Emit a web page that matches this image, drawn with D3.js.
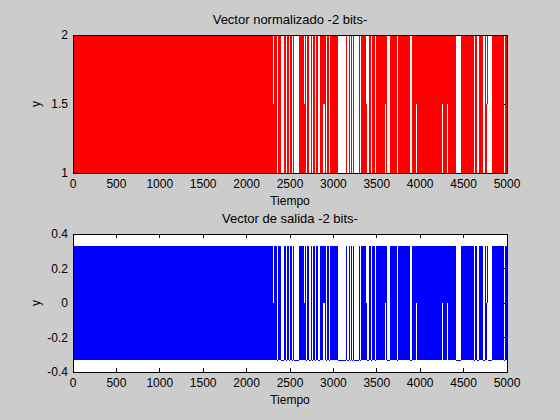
<!DOCTYPE html>
<html>
<head>
<meta charset="utf-8">
<script src="https://cdn.jsdelivr.net/npm/d3@7"></script>
<style>
  body { margin: 0; background: #cccccc; }
  svg { display: block; }
  text { font-family: "Liberation Sans", Arial, Helvetica, sans-serif; font-size: 12px; fill: #000; }
</style>
</head>
<body>
<svg id="fig" width="560" height="420"></svg>
<script>
// Tiempo axis
const tMax = 5000;
const xTicks = [0, 500, 1000, 1500, 2000, 2500, 3000, 3500, 4000, 4500, 5000];

// stretches where the trace sits on its low level (blank columns)
const lowRuns = [
  [2350, 2362], [2396, 2431], [2454, 2465], [2488, 2500], [2523, 2535],
  [2546, 2604], [2684, 2696], [2719, 2742], [2753, 2765], [2788, 2800],
  [2823, 2846], [2915, 2926], [2949, 2961], [3053, 3145], [3157, 3180],
  [3191, 3203], [3214, 3226], [3237, 3295], [3306, 3318], [3387, 3410],
  [3433, 3445], [3479, 3491], [3618, 3652], [3733, 3744], [3882, 3906],
  [4412, 4470], [4620, 4631], [4654, 4677], [4724, 4747], [4781, 4827],
  [4965, 4977]
];
// stretches where only the lower half of the band is covered
const lowerRuns = [[2304, 2316], [2661, 2673], [3376, 3387], [4758, 4770]];
// stretches where only the upper half of the band is covered
const upperRuns = [[2880, 2903], [3594, 3606], [3952, 3963], [4251, 4263], [4309, 4320], [4770, 4781]];

// top panel: normalised vector
const normLevels = { lo: 1, mid: 1.5, hi: 2 };
const normTicks = [1, 1.5, 2];
const normTickLabels = ['1', '1.5', '2'];

// bottom panel: output vector
const outLevels = { lo: -0.333, mid: 0, hi: 0.333 };
const outTicks = [-0.4, -0.2, 0, 0.2, 0.4];
const outTickLabels = ['-0.4', '-0.2', '0', '0.2', '0.4'];

const svg = d3.select('#fig');
const left = 73, right = 507;

// everything not listed above is the densely switching part
const special = lowRuns.concat(lowerRuns, upperRuns).sort((a, b) => a[0] - b[0]);
const fullRuns = [];
let cur = 0;
special.forEach(r => {
  if (r[0] > cur) fullRuns.push([cur, r[0]]);
  cur = Math.max(cur, r[1]);
});
if (cur < tMax) fullRuns.push([cur, tMax]);

function panel(opts) {
  const x = d3.scaleLinear().domain([0, tMax]).range([left, right]);
  const y = d3.scaleLinear().domain(opts.domain).range([opts.bottom, opts.top]);
  const g = svg.append('g').attr('shape-rendering', 'crispEdges');

  g.append('rect')
    .attr('x', left).attr('y', opts.top)
    .attr('width', right - left).attr('height', opts.bottom - opts.top)
    .attr('fill', '#fff');

  // inward ticks on all four sides (under the data)
  const tl = 4;
  g.selectAll('.xt-b').data(xTicks).join('line')
    .attr('x1', d => x(d)).attr('x2', d => x(d))
    .attr('y1', opts.bottom).attr('y2', opts.bottom - tl)
    .attr('stroke', '#000');
  g.selectAll('.xt-t').data(xTicks).join('line')
    .attr('x1', d => x(d)).attr('x2', d => x(d))
    .attr('y1', opts.top).attr('y2', opts.top + tl)
    .attr('stroke', '#000');
  g.selectAll('.yt-l').data(opts.ticks).join('line')
    .attr('x1', left).attr('x2', left + tl)
    .attr('y1', d => y(d)).attr('y2', d => y(d))
    .attr('stroke', '#000');
  g.selectAll('.yt-r').data(opts.ticks).join('line')
    .attr('x1', right).attr('x2', right - tl)
    .attr('y1', d => y(d)).attr('y2', d => y(d))
    .attr('stroke', '#000');

  const lv = opts.levels;
  // dense switching: whole band
  g.selectAll('.full').data(fullRuns).join('rect')
    .attr('x', d => x(d[0])).attr('width', d => x(d[1]) - x(d[0]))
    .attr('y', y(lv.hi)).attr('height', y(lv.lo) - y(lv.hi))
    .attr('fill', opts.color);
  g.selectAll('.lower').data(lowerRuns).join('rect')
    .attr('x', d => x(d[0])).attr('width', d => x(d[1]) - x(d[0]))
    .attr('y', y(lv.mid)).attr('height', y(lv.lo) - y(lv.mid))
    .attr('fill', opts.color);
  g.selectAll('.upper').data(upperRuns).join('rect')
    .attr('x', d => x(d[0])).attr('width', d => x(d[1]) - x(d[0]))
    .attr('y', y(lv.hi)).attr('height', y(lv.mid) - y(lv.hi))
    .attr('fill', opts.color);
  // flat low stretches
  g.selectAll('.low').data(lowRuns).join('line')
    .attr('x1', d => x(d[0])).attr('x2', d => x(d[1]))
    .attr('y1', y(lv.lo)).attr('y2', y(lv.lo))
    .attr('stroke', opts.color);

  // box
  g.append('rect')
    .attr('x', left).attr('y', opts.top)
    .attr('width', right - left).attr('height', opts.bottom - opts.top)
    .attr('fill', 'none').attr('stroke', '#000');

  // tick labels
  svg.append('g').selectAll('text').data(xTicks).join('text')
    .attr('x', d => x(d)).attr('y', opts.bottom + 15)
    .attr('text-anchor', 'middle')
    .text(d => d);
  svg.append('g').selectAll('text').data(opts.ticks).join('text')
    .attr('x', left - 5).attr('y', d => y(d))
    .attr('dy', '0.35em')
    .attr('text-anchor', 'end')
    .text((d, i) => opts.tickLabels[i]);

  svg.append('text')
    .attr('x', (left + right) / 2).attr('y', opts.top - 11)
    .attr('text-anchor', 'middle')
    .style('font-size', '13px')
    .text(opts.title);
  svg.append('text')
    .attr('x', (left + right) / 2).attr('y', opts.bottom + 32)
    .attr('text-anchor', 'middle')
    .text('Tiempo');
  svg.append('text')
    .attr('transform', `translate(40,${(opts.top + opts.bottom) / 2}) rotate(-90)`)
    .attr('text-anchor', 'middle')
    .text('y');
}

panel({
  top: 35, bottom: 173, domain: [1, 2],
  ticks: normTicks, tickLabels: normTickLabels, levels: normLevels,
  color: '#ff0000', title: 'Vector normalizado -2 bits-'
});
panel({
  top: 234, bottom: 372, domain: [-0.4, 0.4],
  ticks: outTicks, tickLabels: outTickLabels, levels: outLevels,
  color: '#0000ff', title: 'Vector de salida -2 bits-'
});
</script>
</body>
</html>
